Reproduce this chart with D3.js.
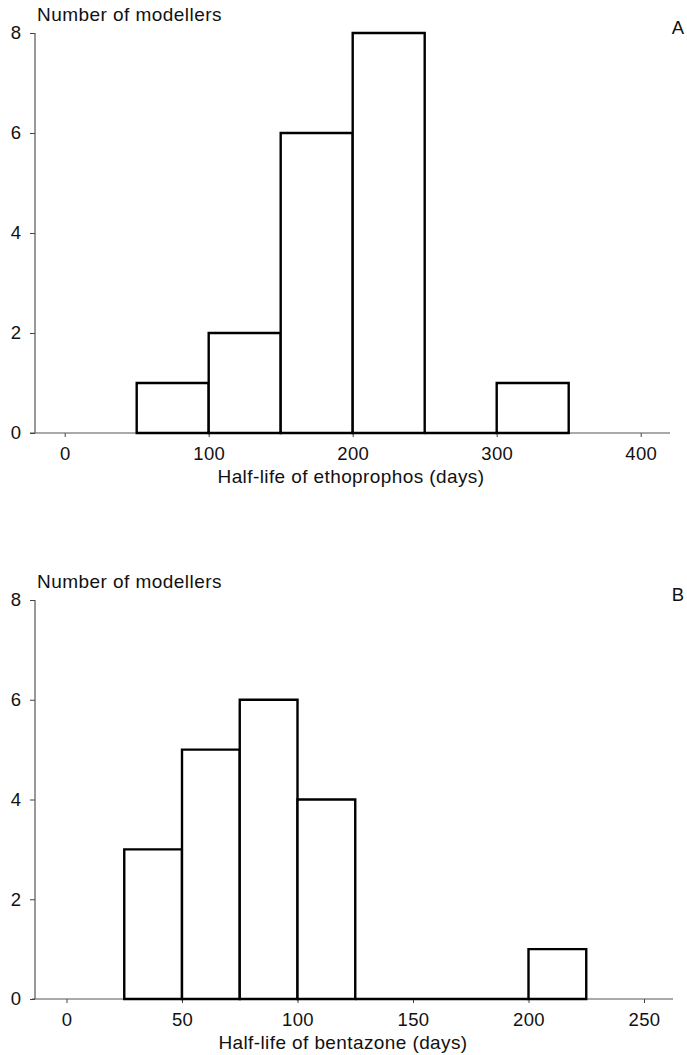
<!DOCTYPE html>
<html>
<head>
<meta charset="utf-8">
<script src="https://d3js.org/d3.v7.min.js"></script>
<style>
  body { margin: 0; background: #fff; }
  svg text { font-family: "Liberation Sans", Arial, sans-serif; fill: #111; }
</style>
</head>
<body>
<div id="chart"></div>
<script>
// panel A: ethoprophos
var binStartsA = [50, 100, 150, 200, 250, 300];
var binEndsA   = [100, 150, 200, 250, 300, 350];
var countsA    = [1, 2, 6, 8, 0, 1];
var xTicksA    = [0, 100, 200, 300, 400];

// panel B: bentazone
var binStartsB = [25, 50, 75, 100, 125, 200];
var binEndsB   = [50, 75, 100, 125, 200, 225];
var countsB    = [3, 5, 6, 4, 0, 1];
var xTicksB    = [0, 50, 100, 150, 200, 250];

var yTicks = [0, 2, 4, 6, 8];

var svg = d3.select("#chart").append("svg")
  .attr("width", 687).attr("height", 1055);

function panel(opt) {
  var x = d3.scaleLinear().domain(opt.xDomain).range(opt.xRange);
  var y = d3.scaleLinear().domain([0, 8]).range([opt.bottom, opt.top]);
  var g = svg.append("g");

  // x axis
  var xa = g.append("g")
    .attr("transform", "translate(0," + opt.bottom + ")")
    .call(d3.axisBottom(x).tickValues(opt.xTicks).tickSize(4).tickSizeOuter(0).tickPadding(10));
  xa.select(".domain").remove();
  xa.selectAll("text").style("font-size", "18.5px").style("letter-spacing", "0.3px");
  xa.selectAll("line").attr("stroke", "#444");
  g.append("line")
    .attr("x1", opt.lineX0).attr("x2", opt.lineX1)
    .attr("y1", opt.bottom).attr("y2", opt.bottom)
    .attr("stroke", "#555").attr("stroke-width", 1.2);

  // y axis
  var ya = g.append("g")
    .attr("transform", "translate(" + opt.yAxisX + ",0)")
    .call(d3.axisLeft(y).tickValues(yTicks).tickSize(5).tickSizeOuter(0).tickPadding(9));
  ya.select(".domain").remove();
  ya.selectAll("text").style("font-size", "18.5px");
  ya.selectAll("line").attr("stroke", "#444");
  g.append("line")
    .attr("x1", opt.yAxisX).attr("x2", opt.yAxisX)
    .attr("y1", opt.top).attr("y2", opt.bottom)
    .attr("stroke", "#555").attr("stroke-width", 1.2);

  // bars
  g.selectAll("path.bar")
    .data(opt.counts)
    .enter()
    .append("path")
    .attr("class", "bar")
    .attr("d", function(d, i) {
      var x0 = x(opt.starts[i]), x1 = x(opt.ends[i]);
      return "M" + x0 + "," + y(0) + "V" + y(d) + "H" + x1 + "V" + y(0) + "Z";
    })
    .attr("fill", "#fff")
    .attr("stroke", "#000")
    .attr("stroke-width", 2.4);

  // labels
  g.append("text")
    .attr("x", 37).attr("y", opt.top - 12)
    .style("font-size", "19px").style("letter-spacing", "0.45px")
    .text("Number of modellers");
  g.append("text")
    .attr("x", 684).attr("y", opt.top + 1)
    .attr("text-anchor", "end")
    .style("font-size", "18.5px")
    .text(opt.letter);
  g.append("text")
    .attr("x", opt.labelX).attr("y", opt.bottom + 50)
    .attr("text-anchor", "middle")
    .style("font-size", "19px").style("letter-spacing", "0.4px")
    .text(opt.xLabel);
}

panel({
  xDomain: [0, 400], xRange: [64.7, 640.7], xTicks: xTicksA,
  top: 33, bottom: 433, yAxisX: 35, lineX0: 30, lineX1: 670,
  starts: binStartsA, ends: binEndsA, counts: countsA,
  letter: "A", xLabel: "Half-life of ethoprophos (days)", labelX: 351
});

panel({
  xDomain: [0, 250], xRange: [66.5, 644], xTicks: xTicksB,
  top: 600, bottom: 999, yAxisX: 35, lineX0: 32, lineX1: 673,
  starts: binStartsB, ends: binEndsB, counts: countsB,
  letter: "B", xLabel: "Half-life of bentazone (days)", labelX: 343
});
</script>
</body>
</html>
